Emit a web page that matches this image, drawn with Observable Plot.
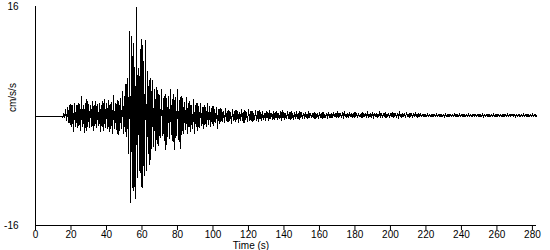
<!DOCTYPE html>
<html>
<head>
<meta charset="utf-8">
<script src="https://cdn.jsdelivr.net/npm/d3@7"></script>
<script src="https://cdn.jsdelivr.net/npm/@observablehq/plot@0.6"></script>
<style>
  html, body { margin: 0; padding: 0; background: #fff; }
  #chart { width: 550px; height: 250px; }
</style>
</head>
<body>
<div id="chart"></div>
<script>
// Time of first sample (s) and sample spacing (s)
const timeStart = 0;
const timeStep = 1;

// Upper excursion at each second (cm/s/s)
const upperPeaks = [
  0,0,0,0,0,0,0,0,0,0,0,0,0,0,0,
  0,
  0.4,0.9,1.3,1.5,1.7,1.5,1.8,1.6,1.9,1.7,2.8,1.6,1.9,2.4,
  1.7,1.5,2.1,1.6,2.2,1.7,1.9,1.6,2.2,2.4,1.8,2.3,1.7,2.0,3.0,
  1.9,2.3,2.1,2.6,3.6,2.8,4.7,5.5,
  12.4,11.6,10.6,7.1,15.9,7.0,9.7,11.3,8.0,11.0,
  6.5,5.3,5.5,5.2,3.9,4.2,3.8,3.0,3.9,2.5,3.2,2.6,2.9,3.9,2.4,3.1,2.7,3.9,2.3,2.9,
  2.5,1.9,2.7,1.8,2.2,1.5,2.4,1.6,1.9,1.4,1.8,1.3,1.6,1.2,1.8,1.4,1.1,1.5,1.0,1.3,1.0,1.2,
  0.9,0.6,1.1,0.7,0.8,0.5,1.0,0.6,0.9,0.7,0.5,1.0,0.6,0.8,0.5,0.9,0.6,0.7,0.4,0.8,0.6,0.9,0.5,
  0.6,0.4,0.7,0.5,0.8,0.4,0.6,0.5,0.7,0.4,0.6,0.8,0.5,0.4,0.6,0.5,0.7,0.4,0.5,0.6,0.4,0.7,0.5,
  0.4,0.5,0.3,0.6,0.4,0.3,0.5,0.4,0.3,0.5,0.4,0.6,0.3,0.4,0.5,0.3,
  0.4,0.5,0.3,0.6,0.4,0.3,0.5,0.7,0.3,0.4,
  0.5,0.3,0.4,0.6,0.3,0.4,0.3,0.5,0.4,0.3,
  0.6,0.3,0.4,0.5,0.3,0.4,0.3,0.7,0.4,0.3,
  0.5,0.3,0.4,0.3,0.5,0.4,0.3,0.4,0.6,0.3,
  0.4,0.3,0.5,0.3,0.4,0.3,0.4,0.5,0.3,0.4,
  0.3,0.2,0.3,0.2,0.3,0.25,0.2,0.3,0.2,0.3,
  0.2,0.3,0.2,0.25,0.3,0.2,0.3,0.2,0.2,0.3,
  0.25,0.2,0.3,0.2,0.3,0.2,0.25,0.3,0.2,0.2,
  0.3,0.2,0.25,0.3,0.2,0.3,0.2,0.2,0.3,0.25,
  0.2,0.3,0.2,0.3,0.2,0.25,0.2,0.3,0.2,0.3,
  0.2,0.25,0.3,0.2,0.2,0.3,0.2,0.25,0.3,0.2,
  0.3,0.2,0.2,0.3,0.2,0.2
];

// Lower excursion half a second later (cm/s/s)
const lowerPeaks = [
  0,0,0,0,0,0,0,0,0,0,0,0,0,0,0,
  -0.2,
  -0.3,-0.7,-1.0,-1.3,-1.6,-2.2,-1.5,-1.7,-1.4,-2.1,-1.6,-2.4,-2.1,-1.5,
  -1.7,-1.6,-2.2,-1.5,-1.7,-1.4,-2.3,-1.6,-2.1,-1.7,-1.9,-2.3,-1.8,-2.6,-1.9,
  -2.0,-2.7,-2.2,-1.9,-2.5,-2.3,-3.0,-5.5,
  -12.6,-10.5,-11.0,-12.0,-9.0,-8.0,-10.3,-10.5,-8.7,-8.0,
  -5.5,-7.1,-4.8,-4.5,-5.0,-4.0,-4.4,-3.2,-2.8,-3.6,-4.9,-3.0,-3.3,-2.7,-3.8,-4.9,-2.9,-3.4,-4.8,-2.8,
  -2.6,-2.0,-2.5,-1.6,-2.3,-1.9,-2.6,-1.5,-2.1,-1.7,-1.4,-1.9,-1.3,-1.6,-1.2,-1.5,-1.1,-1.4,-1.0,-1.8,-1.1,-0.9,
  -0.8,-1.0,-0.6,-0.9,-0.7,-1.1,-0.6,-0.8,-0.5,-0.9,-0.7,-0.6,-1.0,-0.5,-0.8,-0.6,-0.7,-0.9,-0.5,-0.6,-0.8,-0.5,-0.7,
  -0.5,-0.6,-0.3,-0.7,-0.4,-0.5,-0.6,-0.3,-0.5,-0.4,-0.6,-0.3,-0.5,-0.4,-0.3,-0.6,-0.4,-0.5,-0.3,-0.4,-0.5,-0.3,-0.4,
  -0.3,-0.2,-0.4,-0.3,-0.2,-0.3,-0.4,-0.2,-0.3,-0.2,-0.4,-0.3,-0.2,-0.3,-0.2,-0.3,
  -0.2,-0.1,-0.3,-0.2,-0.1,-0.2,-0.3,-0.1,-0.2,-0.2,
  -0.1,-0.3,-0.2,-0.1,-0.2,-0.1,-0.3,-0.2,-0.1,-0.2,
  -0.2,-0.1,-0.2,-0.3,-0.1,-0.2,-0.1,-0.2,-0.2,-0.1,
  -0.3,-0.1,-0.2,-0.1,-0.2,-0.1,-0.2,-0.3,-0.1,-0.2,
  -0.1,-0.2,-0.1,-0.2,-0.1,-0.2,-0.1,-0.1,-0.2,-0.1,
  -0.1,-0.05,-0.1,-0.1,-0.05,-0.1,-0.15,-0.05,-0.1,-0.1,
  -0.05,-0.1,-0.1,-0.15,-0.05,-0.1,-0.05,-0.1,-0.1,-0.05,
  -0.1,-0.1,-0.05,-0.1,-0.15,-0.1,-0.05,-0.1,-0.1,-0.05,
  -0.1,-0.05,-0.1,-0.1,-0.05,-0.15,-0.1,-0.05,-0.1,-0.1,
  -0.05,-0.1,-0.1,-0.05,-0.1,-0.1,-0.15,-0.05,-0.1,-0.1,
  -0.1,-0.05,-0.1,-0.15,-0.1,-0.05,-0.1,-0.1,-0.05,-0.1,
  -0.1,-0.05,-0.1,-0.1,-0.05,-0.1
];

const xTicks = [0,20,40,60,80,100,120,140,160,180,200,220,240,260,280];
const yTicks = [-16, 16];
const xDomain = [0, 282.3];
const yDomain = [-16, 16];
const yLabel = "cm/s/s";
const xLabel = "Time (s)";

// Build the series table: upper at t, lower at t + half a step
const series = [];
upperPeaks.forEach((u, i) => {
  const t = timeStart + i * timeStep;
  series.push({t: t, a: u});
  series.push({t: t + timeStep / 2, a: lowerPeaks[i]});
});

const chart = Plot.plot({
  width: 550,
  height: 250,
  marginLeft: 35,
  marginRight: 14,
  marginTop: 6,
  marginBottom: 25,
  style: {
    fontFamily: "'Liberation Sans', Arial, sans-serif",
    fontSize: "10px",
    background: "#fff",
    color: "#000"
  },
  x: {domain: xDomain, ticks: xTicks, tickSize: 5, tickPadding: 0, label: null, tickFormat: d => String(d)},
  y: {domain: yDomain, ticks: yTicks, tickSize: 0, tickPadding: 17, label: null, tickFormat: d => String(d)},
  marks: [
    Plot.line(series, {x: "t", y: "a", stroke: "#000", strokeWidth: 1, shapeRendering: "crispEdges"}),
    Plot.ruleX([xDomain[0]], {stroke: "#000"}),
    Plot.ruleY([yDomain[0]], {stroke: "#000"}),
    Plot.text([yLabel], {text: d => d, frameAnchor: "left", rotate: -90, dx: -23, dy: -4, fill: "#000"}),
    Plot.text([xLabel], {text: d => d, frameAnchor: "bottom", dx: -35, dy: 23.5, fill: "#000"})
  ]
});
document.getElementById("chart").appendChild(chart);
</script>
</body>
</html>
